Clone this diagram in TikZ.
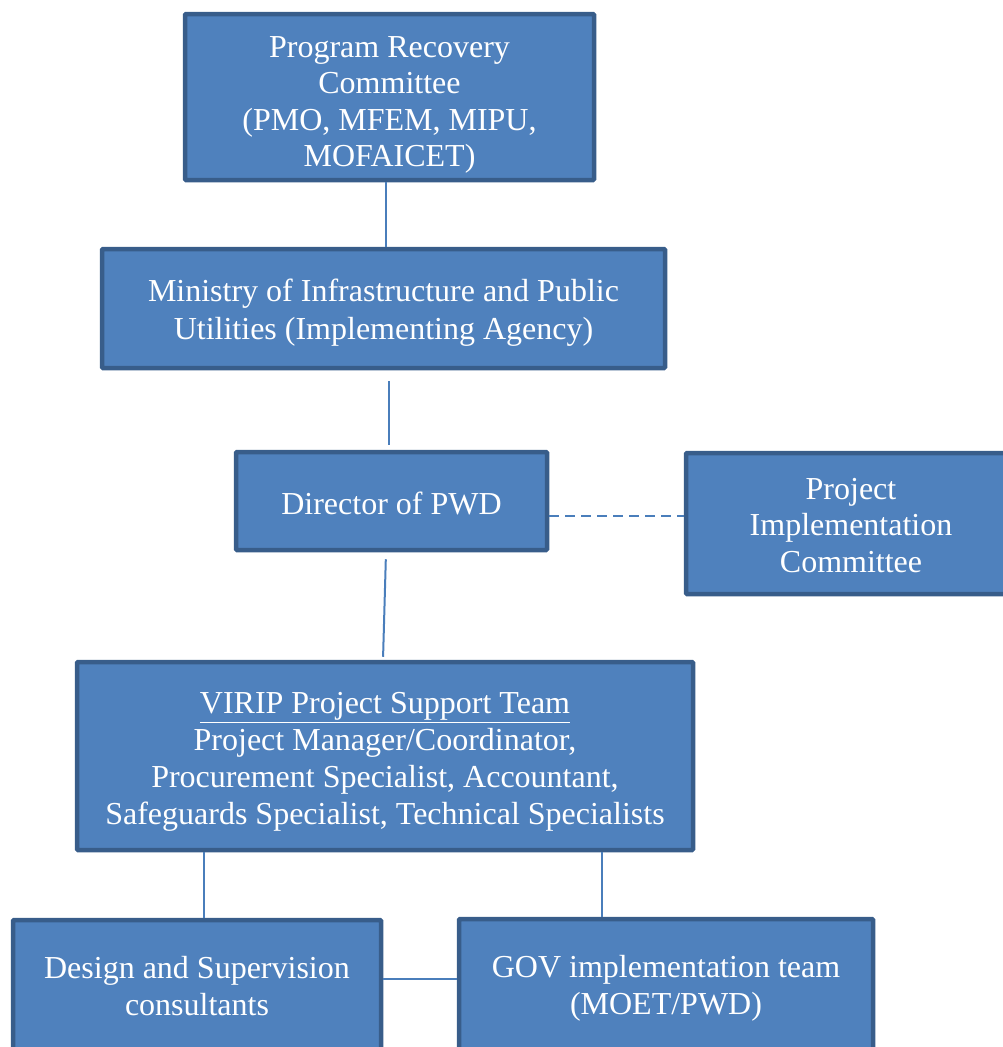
\documentclass[tikz,border=0pt]{standalone}
\usepackage{fontspec}
\setmainfont{Liberation Serif}
\usetikzlibrary{calc}
\definecolor{boxfill}{HTML}{4F81BD}
\definecolor{boxline}{HTML}{385D8A}
\definecolor{connline}{HTML}{4A7EBB}
\begin{document}
\begin{tikzpicture}[x=1pt,y=-1pt,
  orgbox/.style={draw=boxline, fill=boxfill, line width=4.5pt,
    inner sep=0pt, rounded corners=1pt},
  boxtext/.style={text=white, align=center, inner sep=0pt,
    font=\fontsize{32}{#1}\selectfont},
  boxtext/.default=36.5,
  conn/.style={draw=connline, line width=2pt},
  dashconn/.style={conn, dash pattern=on 10pt off 6pt}]
\useasboundingbox (0,0) rectangle (1003,1047);
% boxes
\node[orgbox, minimum width=409pt, minimum height=166pt] (prc) at (389.5,97) {};
\node[orgbox, minimum width=563pt, minimum height=119pt] (mipu) at (383.5,308.5) {};
\node[orgbox, minimum width=311pt, minimum height=98pt] (dir) at (391.5,501) {};
\node[orgbox, minimum width=330pt, minimum height=141pt] (pic) at (851,523.5) {};
\node[orgbox, minimum width=616pt, minimum height=188pt] (virip) at (385,756) {};
\node[orgbox, minimum width=368pt, minimum height=134pt] (des) at (197,987) {};
\node[orgbox, minimum width=414pt, minimum height=136pt] (gov) at (666,987) {};
% texts
\node[boxtext=36.3] (prct) at ($(prc.center)+(0,8)$)
  {Program Recovery\\Committee\\(PMO, MFEM, MIPU,\\MOFAICET)};
\node[boxtext=38] (mipyt) at ($(mipu.center)+(0,4.5)$)
  {Ministry of Infrastructure and Public\\Utilities (Implementing Agency)};
\node[boxtext] (dirt) at ($(dir.center)+(0,2)$) {Director of PWD};
\node[boxtext] (pict) at ($(pic.center)+(0,2)$)
  {Project\\Implementation\\Committee};
\node[boxtext=37] (viript) at ($(virip.center)+(0,6)$)
  {\underline{VIRIP Project Support Team}\\Project Manager/Coordinator,\\Procurement Specialist, Accountant,\\Safeguards Specialist, Technical Specialists};
\node[boxtext=37] (dest) at ($(des.center)+(0,-1)$)
  {Design and Supervision\\consultants};
\node[boxtext=37] (govt) at ($(gov.center)+(0,1)$)
  {GOV implementation team\\(MOET/PWD)};
% connectors
\draw[conn] ([xshift=-3.5pt]prc.south) -- ([xshift=-3.5pt]prc.south |- mipu.north);
\draw[conn, shorten <=11pt, shorten >=5pt] ([xshift=5.5pt]mipu.south) -- ([xshift=-2.5pt]dir.north);
\draw[conn, shorten <=7pt, shorten >=3pt] ([xshift=-5.5pt]dir.south) -- ([xshift=-2pt]virip.north);
\draw[dashconn] ([yshift=-15pt]dir.east) -- ([yshift=-15pt]dir.east -| pic.west);
\draw[conn] ([xshift=7pt]des.north |- virip.south) -- ([xshift=7pt]des.north);
\draw[conn] ([xshift=-64pt]gov.north |- virip.south) -- ([xshift=-64pt]gov.north);
\draw[conn] ([yshift=8pt]des.east) -- ([yshift=8pt]des.east -| gov.west);
\end{tikzpicture}
\end{document}
